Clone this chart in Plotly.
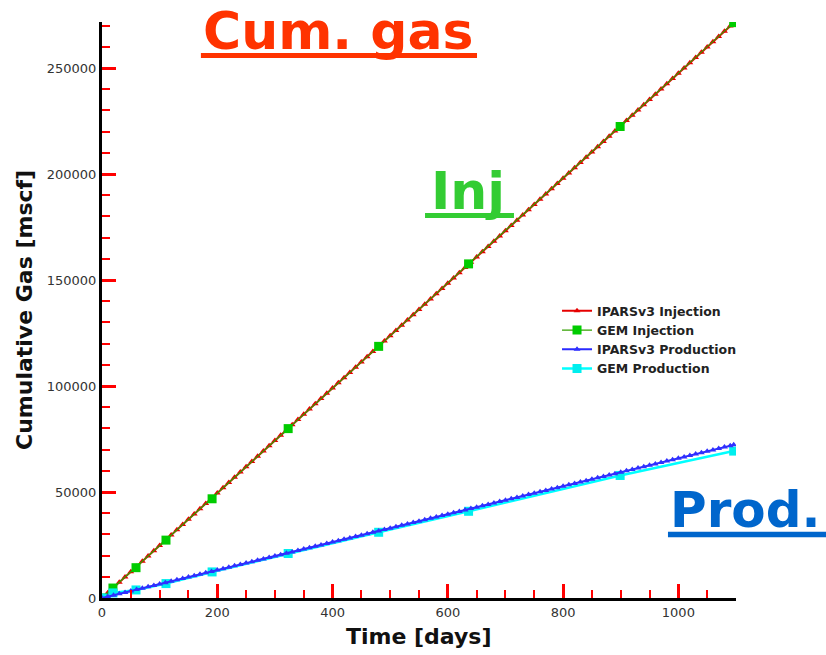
import plotly.graph_objects as go

# ---------------- data ----------------
ipars_days = [0, 10, 20, 30, 40, 50, 60, 70, 80, 90,
              100, 110, 120, 130, 140, 150, 160, 170, 180, 190,
              200, 210, 220, 230, 240, 250, 260, 270, 280, 290,
              300, 310, 320, 330, 340, 350, 360, 370, 380, 390,
              400, 410, 420, 430, 440, 450, 460, 470, 480, 490,
              500, 510, 520, 530, 540, 550, 560, 570, 580, 590,
              600, 610, 620, 630, 640, 650, 660, 670, 680, 690,
              700, 710, 720, 730, 740, 750, 760, 770, 780, 790,
              800, 810, 820, 830, 840, 850, 860, 870, 880, 890,
              900, 910, 920, 930, 940, 950, 960, 970, 980, 990,
              1000, 1010, 1020, 1030, 1040, 1050, 1060, 1070, 1080, 1090,
              1096]

ipars_injection = [0, 2475, 4950, 7425, 9900, 12375, 14850, 17325, 19800, 22275,
                   24750, 27225, 29700, 32175, 34650, 37125, 39600, 42075, 44550, 47025,
                   49500, 51975, 54450, 56925, 59400, 61875, 64350, 66825, 69300, 71775,
                   74250, 76725, 79200, 81675, 84150, 86625, 89100, 91575, 94050, 96525,
                   99000, 101475, 103950, 106425, 108900, 111375, 113850, 116325, 118800, 121275,
                   123750, 126225, 128700, 131175, 133650, 136125, 138600, 141075, 143550, 146025,
                   148500, 150975, 153450, 155925, 158400, 160875, 163350, 165825, 168300, 170775,
                   173250, 175725, 178200, 180675, 183150, 185625, 188100, 190575, 193050, 195525,
                   198000, 200475, 202950, 205425, 207900, 210375, 212850, 215325, 217800, 220275,
                   222750, 225225, 227700, 230175, 232650, 235125, 237600, 240075, 242550, 245025,
                   247500, 249975, 252450, 254925, 257400, 259875, 262350, 264825, 267300, 269775,
                   271260]

ipars_production = [0, 659, 1318, 1977, 2636, 3295, 3954, 4613, 5272, 5931,
                    6590, 7249, 7908, 8567, 9226, 9885, 10544, 11203, 11862, 12521,
                    13180, 13839, 14498, 15157, 15816, 16475, 17134, 17793, 18452, 19111,
                    19770, 20429, 21088, 21747, 22406, 23065, 23724, 24383, 25042, 25701,
                    26360, 27019, 27678, 28337, 28996, 29655, 30314, 30973, 31632, 32291,
                    32950, 33609, 34268, 34927, 35586, 36245, 36904, 37563, 38222, 38881,
                    39540, 40199, 40858, 41517, 42176, 42835, 43494, 44153, 44812, 45471,
                    46130, 46789, 47448, 48107, 48766, 49425, 50084, 50743, 51402, 52061,
                    52720, 53379, 54038, 54697, 55356, 56015, 56674, 57333, 57992, 58651,
                    59310, 59969, 60628, 61287, 61946, 62605, 63264, 63923, 64582, 65241,
                    65900, 66559, 67218, 67877, 68536, 69195, 69854, 70513, 71172, 71831,
                    72230]

gem_days = [0, 19, 59, 111, 191, 323, 480, 636, 899, 1096]
gem_injection = [0, 4700, 14300, 27300, 46800, 79900, 118700, 157600, 222400, 271400]
gem_production = [0, 2400, 3800, 6800, 12300, 21000, 31000, 40900, 57800, 69300]

# ---------------- figure ----------------
fig = go.Figure()

fig.add_trace(go.Scatter(
    x=ipars_days, y=ipars_injection, name="IPARSv3 Injection", mode="lines+markers",
    line=dict(color="#e60000", width=2),
    marker=dict(symbol="triangle-up", size=6, color="#e60000"), legendrank=1))
fig.add_trace(go.Scatter(
    x=gem_days, y=gem_injection, name="GEM Injection", mode="lines+markers",
    line=dict(color="#33a000", width=1.3),
    marker=dict(symbol="square", size=9, color="#00cc00"), legendrank=2))
fig.add_trace(go.Scatter(
    x=gem_days, y=gem_production, name="GEM Production", mode="lines+markers",
    line=dict(color="#00ffff", width=2.5),
    marker=dict(symbol="square", size=9, color="#00eeee"), legendrank=4))
fig.add_trace(go.Scatter(
    x=ipars_days, y=ipars_production, name="IPARSv3 Production", mode="lines+markers",
    line=dict(color="#2a2aff", width=2),
    marker=dict(symbol="triangle-up", size=6, color="#3030ff"), legendrank=3))

tickfont = dict(family="DejaVu Sans", size=13, color="#333333")

fig.update_xaxes(range=[0, 1100], dtick=200, showline=True, linecolor="black", linewidth=3,
                 ticks="inside", ticklen=14, tickwidth=3, tickcolor="red",
                 minor=dict(dtick=50, ticks="inside", ticklen=8, tickwidth=2, tickcolor="red"),
                 showgrid=False, zeroline=False, tickformat="d", tickfont=tickfont)
fig.update_yaxes(range=[0, 271700], dtick=50000, showline=True, linecolor="black", linewidth=3,
                 ticks="inside", ticklen=14, tickwidth=3, tickcolor="red",
                 minor=dict(dtick=10000, ticks="inside", ticklen=8, tickwidth=2, tickcolor="red"),
                 showgrid=False, zeroline=False, tickformat="d", tickfont=tickfont)

title_font = dict(family="DejaVu Sans", size=22, color="#111111", weight="bold")
big = dict(family="DejaVu Sans", size=52, weight="bold")

annotations = [
    dict(text="Time [days]", x=0.5, y=-0.067, xref="paper", yref="paper",
         xanchor="center", yanchor="middle", showarrow=False, font=title_font),
    dict(text="Cumulative Gas [mscf]", x=-0.123, y=0.5, xref="paper", yref="paper",
         xanchor="center", yanchor="middle", textangle=-90, showarrow=False, font=title_font),
    dict(text="Cum. gas", x=0.156, y=0.9846, xref="paper", yref="paper",
         xanchor="left", yanchor="middle", showarrow=False, font=dict(big, color="#ff3300")),
    dict(text="Inj", x=0.516, y=0.7068, xref="paper", yref="paper",
         xanchor="left", yanchor="middle", showarrow=False, font=dict(big, color="#33cc33")),
    dict(text="Prod.", x=0.893, y=0.1528, xref="paper", yref="paper",
         xanchor="left", yanchor="middle", showarrow=False,
         font=dict(family="DejaVu Sans", size=50, weight="bold", color="#0066cc")),
]

shapes = [
    dict(type="rect", xref="paper", yref="paper", x0=0.156, x1=0.5915, y0=0.9375, y1=0.9462,
         fillcolor="#ff3300", line=dict(width=0)),
    dict(type="rect", xref="paper", yref="paper", x0=0.5095, x1=0.6498, y0=0.6597, y1=0.6684,
         fillcolor="#33cc33", line=dict(width=0)),
    dict(type="rect", xref="paper", yref="paper", x0=0.8927, x1=1.15, y0=0.1054, y1=0.1151,
         fillcolor="#0066cc", line=dict(width=0)),
]

fig.update_layout(
    width=826, height=655,
    margin=dict(l=102, r=90, t=22, b=57),
    plot_bgcolor="white",
    showlegend=True,
    legend=dict(x=0.7177, y=0.524, xanchor="left", yanchor="top",
                bgcolor="rgba(0,0,0,0)", borderwidth=0,
                font=dict(family="DejaVu Sans", size=12.5, color="#222222", weight="bold"),
                tracegroupgap=0),
    annotations=annotations, shapes=shapes,
)

fig.write_html("out.html")
